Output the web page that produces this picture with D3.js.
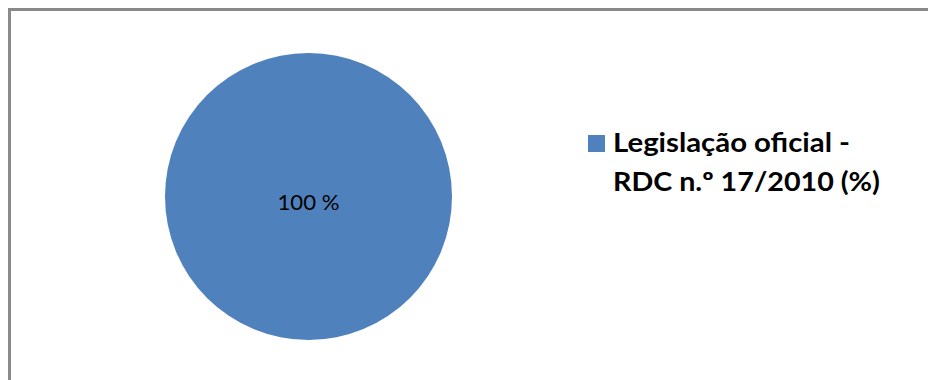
<!DOCTYPE html>
<html>
<head>
<meta charset="utf-8">
<script src="https://cdn.jsdelivr.net/npm/d3@7"></script>
<style>
  body { margin: 0; background: #fff; }
  svg { display: block; }
  text { font-family: Lato, "Open Sans", sans-serif; fill: #000; }
</style>
</head>
<body>
<svg id="chart" width="928" height="380"></svg>
<script>
// data
const categories = ["Legislação oficial - RDC n.º 17/2010 (%)"];
const values = [100];
const legendLines = ["Legislação oficial -", "RDC n.º 17/2010 (%)"];
const colors = ["#4F81BD"];

const width = 928, height = 380;
const svg = d3.select("#chart");

// chart area frame (right and bottom edges fall outside the picture)
svg.append("rect")
  .attr("x", 9.5)
  .attr("y", 9.5)
  .attr("width", 1000)
  .attr("height", 500)
  .attr("fill", "#fff")
  .attr("stroke", "#8a8a8a")
  .attr("stroke-width", 3);

const cx = 308.5, cy = 196.5, radius = 143.5;

const color = d3.scaleOrdinal().domain(categories).range(colors);

const pie = d3.pie().sort(null).value(d => d.value);
const arc = d3.arc().innerRadius(0).outerRadius(radius);

const data = categories.map((c, i) => ({ name: c, value: values[i] }));
const total = d3.sum(values);

const g = svg.append("g").attr("transform", `translate(${cx},${cy})`);

g.selectAll("path")
  .data(pie(data))
  .join("path")
  .attr("d", arc)
  .attr("fill", d => color(d.data.name));

// data labels (a full circle puts its label in the middle)
const labelPos = d => d.endAngle - d.startAngle >= 2 * Math.PI ? [0, 0] : arc.centroid(d);

g.selectAll("text.label")
  .data(pie(data))
  .join("text")
  .attr("class", "label")
  .attr("x", d => labelPos(d)[0])
  .attr("y", d => labelPos(d)[1] + 13)
  .attr("text-anchor", "middle")
  .attr("font-size", 21)
  .attr("textLength", 62)
  .attr("lengthAdjust", "spacingAndGlyphs")
  .text(d => `${Math.round(d.data.value / total * 100)} %`);

// legend
const legend = svg.append("g").attr("transform", "translate(588,135)");

legend.append("rect")
  .attr("width", 17)
  .attr("height", 17)
  .attr("fill", color(categories[0]));

const lineWidths = [237, 267];

legend.selectAll("text")
  .data(legendLines)
  .join("text")
  .attr("x", 25)
  .attr("y", (d, i) => 17 + i * 38.5)
  .attr("font-size", 26)
  .attr("font-weight", "bold")
  .attr("textLength", (d, i) => lineWidths[i])
  .attr("lengthAdjust", "spacingAndGlyphs")
  .text(d => d);
</script>
</body>
</html>
